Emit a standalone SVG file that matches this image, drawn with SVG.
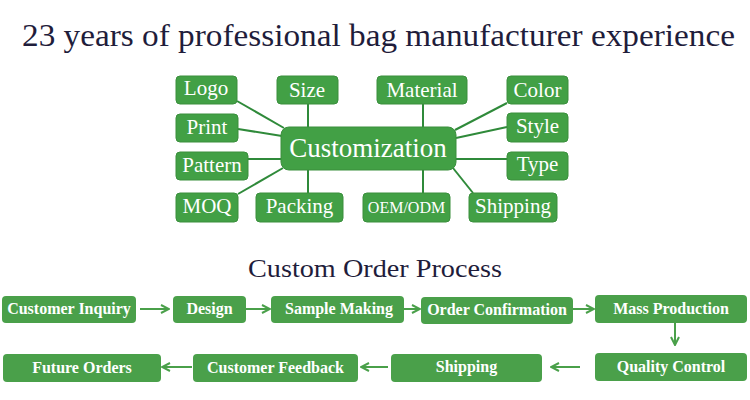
<svg xmlns="http://www.w3.org/2000/svg" width="750" height="400" viewBox="0 0 750 400">
<style>
  .title { font-family: 'Liberation Serif', 'Times New Roman', serif; fill: #1f1d3b; }
  .hub rect, .opt rect { fill: #42a045; stroke: #3a8f3d; stroke-width: 1; }
  .opt text { font-family: 'Liberation Serif', 'Times New Roman', serif; font-size: 21px; fill: #ffffff; text-anchor: middle; }
  .opt text.small { font-size: 16px; }
  .hub text { font-family: 'Liberation Serif', 'Times New Roman', serif; font-size: 27px; fill: #ffffff; text-anchor: middle; }
  .step rect { fill: #4aa04a; }
  .step text { font-family: 'Liberation Serif', 'Times New Roman', serif; font-size: 16px; font-weight: bold; fill: #ffffff; text-anchor: middle; }
  .link { stroke: #2f8a3a; stroke-width: 2; fill: none; }
  .flow { stroke: #4aa04a; stroke-width: 2; fill: none; marker-end: url(#arrow); }
</style>
<defs>
  <marker id="arrow" viewBox="0 0 10 10" refX="9" refY="5" markerWidth="10" markerHeight="10" markerUnits="userSpaceOnUse" orient="auto">
    <path d="M1,1 L9,5 L1,9" fill="none" stroke="#4aa04a" stroke-width="2"/>
  </marker>
</defs>
<rect width="750" height="400" fill="#ffffff"/>

<text class="title" x="22" y="46" font-size="32" textLength="713" lengthAdjust="spacingAndGlyphs">23 years of professional bag manufacturer experience</text>
<text class="title" x="248" y="277" font-size="26" textLength="254" lengthAdjust="spacingAndGlyphs">Custom Order Process</text>

<g id="connectors">
  <line class="link" x1="237" y1="101" x2="284" y2="128"/>
  <line class="link" x1="238" y1="129" x2="282" y2="136"/>
  <line class="link" x1="248" y1="159" x2="282" y2="159"/>
  <line class="link" x1="238" y1="194" x2="283" y2="168"/>
  <line class="link" x1="308" y1="104" x2="308" y2="127"/>
  <line class="link" x1="308" y1="170" x2="308" y2="193"/>
  <line class="link" x1="423" y1="104" x2="423" y2="127"/>
  <line class="link" x1="423" y1="170" x2="423" y2="193"/>
  <line class="link" x1="507" y1="103" x2="455" y2="130"/>
  <line class="link" x1="507" y1="127" x2="456" y2="138"/>
  <line class="link" x1="455" y1="159" x2="507" y2="159"/>
  <line class="link" x1="453" y1="168" x2="473" y2="193"/>

  <line class="flow" x1="140" y1="309" x2="169" y2="309"/>
  <line class="flow" x1="246" y1="309" x2="270" y2="309"/>
  <line class="flow" x1="404" y1="309" x2="420" y2="309"/>
  <line class="flow" x1="573" y1="309" x2="594" y2="309"/>
  <line class="flow" x1="675" y1="323" x2="675" y2="345"/>
  <line class="flow" x1="580" y1="367" x2="551" y2="367"/>
  <line class="flow" x1="388" y1="367" x2="361" y2="367"/>
  <line class="flow" x1="192" y1="367" x2="162" y2="367"/>
</g>

<g id="customization" class="hub"><rect x="281" y="127" width="175" height="43" rx="8"/><text x="368" y="156.5">Customization</text></g>

<g id="logo" class="opt"><rect x="176" y="76" width="61" height="28" rx="4"/><text x="206" y="95">Logo</text></g>
<g id="size" class="opt"><rect x="277" y="76" width="61" height="28" rx="4"/><text x="307" y="97">Size</text></g>
<g id="print" class="opt"><rect x="176" y="114" width="62" height="28" rx="4"/><text x="207" y="134">Print</text></g>
<g id="pattern" class="opt"><rect x="176" y="152" width="72" height="28" rx="4"/><text x="212" y="172">Pattern</text></g>
<g id="moq" class="opt"><rect x="176" y="193" width="62" height="29" rx="4"/><text x="207" y="213">MOQ</text></g>
<g id="packing" class="opt"><rect x="256" y="193" width="87" height="29" rx="4"/><text x="299.5" y="213">Packing</text></g>
<g id="material" class="opt"><rect x="377" y="76" width="90" height="28" rx="4"/><text x="422" y="97">Material</text></g>
<g id="oem-odm" class="opt"><rect x="363" y="193" width="87" height="29" rx="4"/><text class="small" x="406.5" y="213">OEM/ODM</text></g>
<g id="color" class="opt"><rect x="507" y="76" width="61" height="28" rx="4"/><text x="537.5" y="97">Color</text></g>
<g id="style" class="opt"><rect x="507" y="113" width="61" height="29" rx="4"/><text x="537.5" y="133">Style</text></g>
<g id="type" class="opt"><rect x="507" y="152" width="61" height="28" rx="4"/><text x="537.5" y="171">Type</text></g>
<g id="shipping-opt" class="opt"><rect x="469" y="193" width="88" height="29" rx="4"/><text x="513" y="213">Shipping</text></g>

<g id="customer-inquiry" class="step"><rect x="2" y="296" width="134" height="27" rx="4"/><text x="69" y="314">Customer Inquiry</text></g>
<g id="design" class="step"><rect x="173" y="296" width="73" height="27" rx="4"/><text x="209.5" y="314">Design</text></g>
<g id="sample-making" class="step"><rect x="271" y="296" width="133" height="27" rx="4"/><text x="339" y="314">Sample Making</text></g>
<g id="order-confirmation" class="step"><rect x="421" y="297" width="152" height="27" rx="4"/><text x="497" y="315">Order Confirmation</text></g>
<g id="mass-production" class="step"><rect x="595" y="295" width="152" height="28" rx="4"/><text x="671" y="314">Mass Production</text></g>
<g id="quality-control" class="step"><rect x="595" y="353" width="152" height="28" rx="4"/><text x="671" y="372">Quality Control</text></g>
<g id="shipping" class="step"><rect x="391" y="354" width="151" height="28" rx="4"/><text x="466.5" y="372">Shipping</text></g>
<g id="customer-feedback" class="step"><rect x="193" y="354" width="165" height="28" rx="4"/><text x="275.5" y="373">Customer Feedback</text></g>
<g id="future-orders" class="step"><rect x="3" y="354" width="158" height="28" rx="4"/><text x="82" y="373">Future Orders</text></g>
</svg>
